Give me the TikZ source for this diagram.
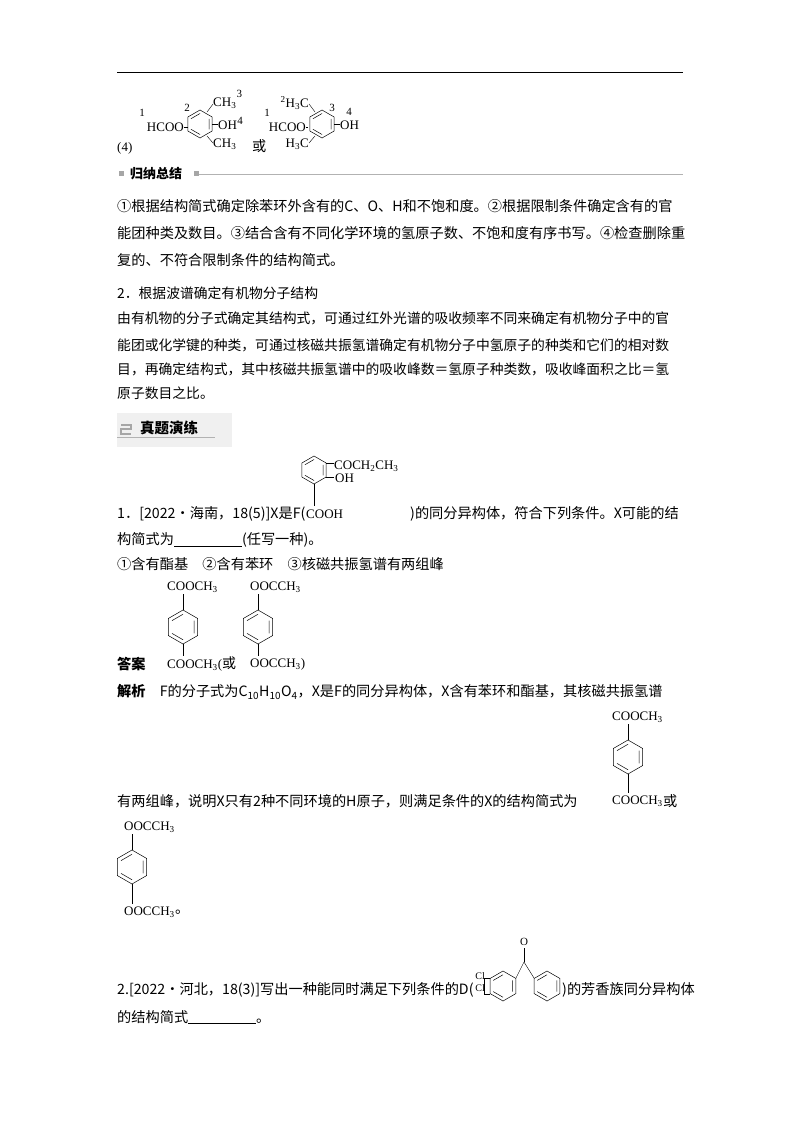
\documentclass[tikz,border=0pt]{standalone}
\usepackage{fontspec}
\setmainfont{Noto Sans CJK SC}
\newfontfamily\chem{Liberation Serif}
\newcommand\bz[3]{%
\draw[line width=0.5pt] (#1,#2)+(90:#3)--+(30:#3)--+(-30:#3)--+(-90:#3)--+(-150:#3)--+(150:#3)--cycle;
\draw[line width=0.5pt] (#1,#2)+(30:0.75*#3)--+(-30:0.75*#3) (#1,#2)+(-90:0.75*#3)--+(-150:0.75*#3) (#1,#2)+(150:0.75*#3)--+(90:0.75*#3);}
\newcommand\ssb[1]{\textsubscript{#1}}
\begin{document}
\begin{tikzpicture}[x=1pt,y=-1pt,
 txt/.style={anchor=west,inner sep=0,font=\fontsize{14.2}{16}\selectfont},
 sm/.style={anchor=west,inner sep=0,font=\fontsize{13.8}{15}\selectfont},
 ch/.style={inner sep=0,font=\chem\fontsize{13}{14}\selectfont},
 num/.style={inner sep=0,font=\chem\fontsize{11}{12}\selectfont}]
\useasboundingbox (0,0) rectangle (800,1132);
\draw[line width=0.8pt] (117,72) -- (683,72);
% (4)
\node[ch,anchor=west] (p4) at (117,148) {(4)};
\node[ch,anchor=east] (h1) at (184,127) {HCOO};
\node[num] at (142,113) {1};
\bz{200}{124}{14}
\draw (184,127)--(188,127);
\node[num] at (187,108) {2};
\draw (207,112)--(213,104);
\node[ch,anchor=west] (m1) at (213,103) {CH\ssb{3}};
\node[num,anchor=south west] at (m1.north east) {3};
\draw (212,124)--(218,124);
\node[ch,anchor=west] (o1) at (218,125) {OH};
\node[num,anchor=south west] at (o1.east) {4};
\draw (207,136)--(213,143);
\node[ch,anchor=west] at (213,144) {CH\ssb{3}};
\node[txt] (or1) at (252,146) {或};
\node[ch,anchor=east] at (306,127) {HCOO};
\node[num] at (267,113) {1};
\bz{322}{124}{14}
\draw (306,127)--(308,127);
\draw (315,112)--(309,104);
\node[ch,anchor=east] at (309,103) {\textsuperscript{2}H\ssb{3}C};
\node[num] at (332,108) {3};
\draw (334,124)--(340,124);
\node[ch,anchor=west] at (340,125) {OH};
\node[num] at (349,112) {4};
\draw (315,136)--(309,143);
\node[ch,anchor=east] at (309,144) {H\ssb{3}C};
% 归纳总结
\fill[gray!70] (119,171) rectangle (124,176);
\node[anchor=west,inner sep=0,font=\bfseries\fontsize{13}{15}\selectfont] at (130,174) {归纳总结};
\fill[gray!70] (194,171) rectangle (199,176);
\draw[gray!60,line width=1pt] (199,174) -- (683,174);
\node[txt] at (117,206) {①根据结构简式确定除苯环外含有的C、O、H和不饱和度。②根据限制条件确定含有的官};
\node[txt] at (117,233) {能团种类及数目。③结合含有不同化学环境的氢原子数、不饱和度有序书写。④检查删除重};
\node[txt] at (117,260) {复的、不符合限制条件的结构简式。};
\node[sm] at (117,293) {2．根据波谱确定有机物分子结构};
\node[sm] at (117,318) {由有机物的分子式确定其结构式，可通过红外光谱的吸收频率不同来确定有机物分子中的官};
\node[sm] at (117,345) {能团或化学键的种类，可通过核磁共振氢谱确定有机物分子中氢原子的种类和它们的相对数};
\node[sm] at (117,369) {目，再确定结构式，其中核磁共振氢谱中的吸收峰数＝氢原子种类数，吸收峰面积之比＝氢};
\node[sm] at (117,393) {原子数目之比。};
% 真题演练
\fill[gray!12] (117,413) rectangle (232,447);
\draw[gray!70,line width=1.2pt] (121,425)--(131,425)--(131,429)--(121,429)--(121,434)--(131,434);
\node[anchor=west,inner sep=0,font=\bfseries\fontsize{14.5}{16}\selectfont] at (140,428) {真题演练};
\draw[gray!60,line width=0.8pt] (117,437.5) -- (215,437.5);
% F
\bz{314}{470}{14}
\draw (326,463)--(334,463);
\node[ch,anchor=west] at (334,466) {COCH\ssb{2}CH\ssb{3}};
\node[ch,anchor=west] at (335,478) {OH};
\draw (326,477)--(334,477);
\draw (314,484)--(314,506);
\node[txt] at (117,514) {1．[2022·海南，18(5)]X是F(};
\node[ch,anchor=west] at (306,514) {COOH};
\node[txt] at (410,514) {)的同分异构体，符合下列条件。X可能的结};
\node[txt] at (117,540) {构简式为\underline{\hspace{68pt}}(任写一种)。};
\node[txt] at (117,564) {①含有酯基\quad ②含有苯环\quad ③核磁共振氢谱有两组峰};
% answer
\node[ch,anchor=west] at (167,587) {COOCH\ssb{3}};
\draw (183,594)--(183,610);
\bz{183}{627}{17}
\draw (183,644)--(183,656);
\node[anchor=west,inner sep=0,font=\bfseries\fontsize{14.2}{16}\selectfont] at (117,664) {答案};
\node[ch,anchor=west] at (167,664) {COOCH\ssb{3}(\fontsize{14}{15}\selectfont\normalfont 或};
\node[ch,anchor=west] at (250,587) {OOCCH\ssb{3}};
\draw (258,594)--(258,610);
\bz{258}{627}{17}
\draw (258,644)--(258,656);
\node[ch,anchor=west] at (250,664) {OOCCH\ssb{3})};
\node[txt] at (117,692) {\textbf{解析}\quad F的分子式为C\ssb{10}H\ssb{10}O\ssb{4}，X是F的同分异构体，X含有苯环和酯基，其核磁共振氢谱};
\node[ch,anchor=west] at (612,717) {COOCH\ssb{3}};
\draw (628,724)--(628,740);
\bz{628}{757}{17}
\draw (628,774)--(628,793);
\node[txt] at (117,801) {有两组峰，说明X只有2种不同环境的H原子，则满足条件的X的结构简式为};
\node[ch,anchor=west] (c5) at (612,801) {COOCH\ssb{3}};
\node[txt] at (c5.east) {或};
\node[ch,anchor=west] at (124,827) {OOCCH\ssb{3}};
\draw (132,834)--(132,850);
\bz{132}{867}{17}
\draw (132,884)--(132,904);
\node[ch,anchor=west] (c6) at (124,912) {OOCCH\ssb{3}};
\node[txt] at (c6.east) {。};
% D
\node[txt] at (117,990) {2.[2022·河北，18(3)]写出一种能同时满足下列条件的D(};
\bz{503}{986}{15}
\bz{547}{986}{15}
\node[num] at (524,942) {O};
\draw (524,948)--(524,962);
\draw (524,962)--(516,978) (524,962)--(534,978);
\draw (490,978)--(484,978) (490,994)--(484,994);
\draw (484,978)--(484,994);
\node[num,anchor=east,font=\chem\fontsize{10}{11}\selectfont] at (485,976) {Cl};
\node[num,anchor=east,font=\chem\fontsize{10}{11}\selectfont] at (485,988) {Cl};
\node[txt] at (562,990) {)的芳香族同分异构体};
\node[txt] at (117,1017) {的结构简式\underline{\hspace{68pt}}。};
\end{tikzpicture}
\end{document}
